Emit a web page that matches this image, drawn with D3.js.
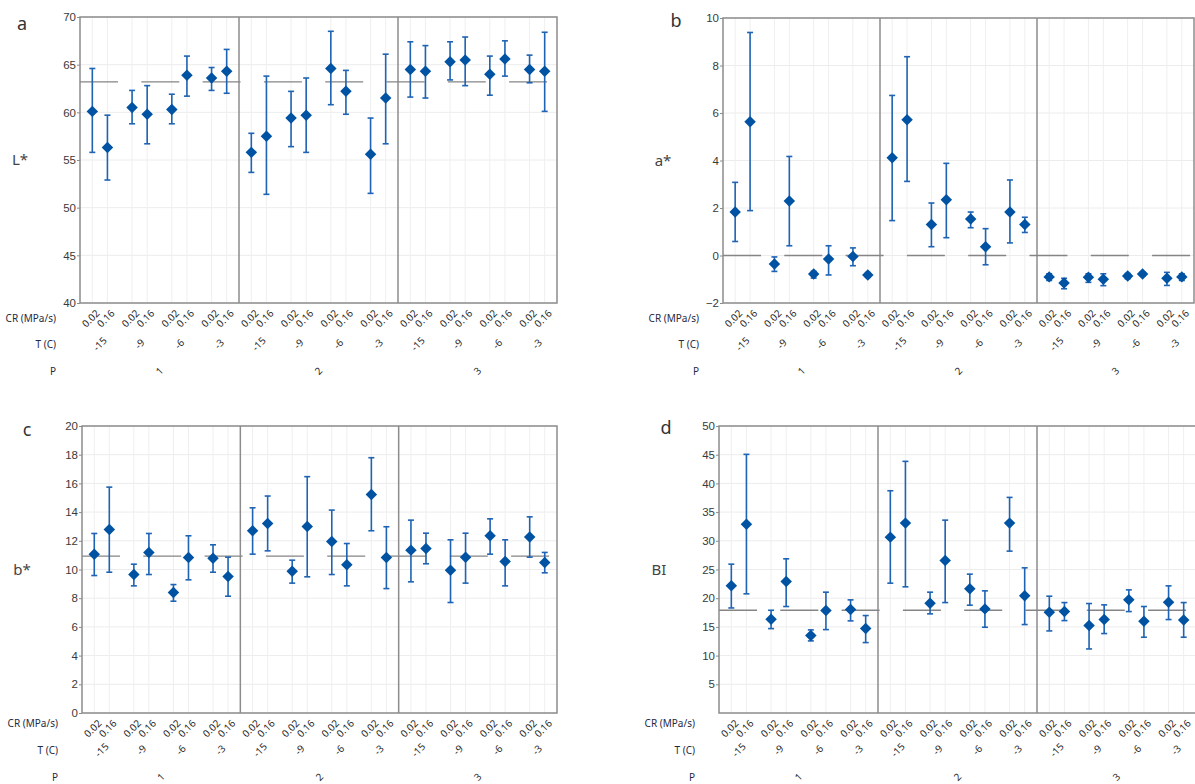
<!DOCTYPE html>
<html>
<head>
<meta charset="utf-8">
<script src="https://cdn.jsdelivr.net/npm/d3@7"></script>
<style>
  body { margin: 0; background: #fff; }
  svg { font-family: "Noto Sans", "Open Sans", sans-serif; }
</style>
</head>
<body>
<svg id="chart" width="1195" height="784"></svg>
<script>
// factor levels
var pLevels = ["1", "2", "3"];
var tLevels = ["-15", "-9", "-6", "-3"];
var crLevels = ["0.02", "0.16"];

// values in order P -> T -> CR (24 cells)
var lMean = [60.1, 56.3, 60.5, 59.8, 60.3, 63.9, 63.6, 64.3,
             55.8, 57.5, 59.4, 59.7, 64.6, 62.2, 55.6, 61.5,
             64.5, 64.3, 65.3, 65.5, 64.0, 65.6, 64.5, 64.3];
var lLow  = [55.8, 52.9, 58.8, 56.7, 58.8, 61.7, 62.3, 62.0,
             53.7, 51.4, 56.4, 55.8, 60.8, 59.8, 51.5, 56.7,
             61.6, 61.5, 63.4, 62.8, 61.8, 63.8, 63.1, 60.1];
var lHigh = [64.6, 59.7, 62.3, 62.8, 61.9, 65.9, 64.7, 66.6,
             57.8, 63.8, 62.2, 63.6, 68.5, 64.4, 59.4, 66.1,
             67.4, 67.0, 67.4, 67.9, 65.9, 67.5, 66.0, 68.4];

var aMean = [1.83, 5.63, -0.36, 2.29, -0.78, -0.15, -0.04, -0.82,
             4.12, 5.72, 1.31, 2.35, 1.54, 0.37, 1.83, 1.31,
             -0.90, -1.16, -0.92, -1.00, -0.86, -0.78, -0.96, -0.90];
var aLow  = [0.59, 1.89, -0.67, 0.41, -0.95, -0.82, -0.43, -0.92,
             1.47, 3.12, 0.37, 0.75, 1.17, -0.39, 0.53, 0.97,
             -1.05, -1.40, -1.13, -1.27, -0.98, -0.86, -1.26, -1.05];
var aHigh = [3.08, 9.39, -0.06, 4.17, -0.67, 0.41, 0.32, -0.72,
             6.74, 8.37, 2.21, 3.88, 1.83, 1.13, 3.18, 1.61,
             -0.77, -0.96, -0.77, -0.77, -0.76, -0.70, -0.71, -0.77];

var bMean = [11.07, 12.79, 9.65, 11.19, 8.40, 10.84, 10.79, 9.51,
             12.70, 13.21, 9.88, 13.00, 11.95, 10.33, 15.23, 10.84,
             11.35, 11.47, 9.95, 10.86, 12.35, 10.56, 12.26, 10.49];
var bLow  = [9.58, 9.81, 8.86, 9.65, 7.79, 9.28, 9.81, 8.14,
             11.07, 11.30, 9.05, 9.49, 9.65, 8.86, 12.70, 8.67,
             9.14, 10.40, 7.70, 9.05, 11.07, 8.86, 10.86, 9.77];
var bHigh = [12.51, 15.74, 10.37, 12.51, 8.95, 12.35, 11.72, 10.86,
             14.30, 15.12, 10.65, 16.47, 14.14, 11.81, 17.79, 12.98,
             13.44, 12.53, 12.07, 12.53, 13.53, 12.07, 13.67, 11.19];

var biMean = [22.15, 32.9, 16.34, 22.9, 13.49, 17.85, 18.02, 14.71,
              30.64, 33.08, 19.13, 26.57, 21.63, 18.14, 33.08, 20.41,
              17.56, 17.67, 15.23, 16.28, 19.71, 15.99, 19.30, 16.22];
var biLow  = [18.3, 20.76, 14.7, 18.55, 12.56, 14.53, 16.05, 12.27,
              22.62, 21.98, 17.27, 19.24, 18.78, 14.94, 28.2, 15.41,
              14.3, 16.1, 11.16, 13.84, 17.67, 13.2, 16.28, 13.2];
var biHigh = [25.93, 45.06, 17.9, 26.86, 14.48, 21.05, 19.71, 16.98,
              38.72, 43.84, 21.05, 33.6, 24.19, 21.28, 37.56, 25.29,
              20.35, 19.24, 19.07, 18.84, 21.45, 18.55, 22.15, 19.24];

// reference (grand mean) lines
var refL = 63.2, refA = 0, refB = 10.93, refBI = 17.9;

function cells(mean, lo, hi) {
  var out = [];
  pLevels.forEach((p, pi) => {
    tLevels.forEach((t, ti) => {
      crLevels.forEach((c, ci) => {
        var i = pi * 8 + ti * 2 + ci;
        out.push({p: p, t: t, cr: c, mean: mean[i], lo: lo[i], hi: hi[i]});
      });
    });
  });
  return out;
}

var svg = d3.select("#chart");

function drawPanel(o) {
  var g = svg.append("g");
  var left = o.box[0], top = o.box[1], right = o.box[2], bottom = o.box[3];

  var pScale = d3.scaleBand().domain(pLevels).range([left, right]);
  var tScale = d3.scaleBand().domain(tLevels).range([0, pScale.bandwidth()]);
  var gw = tScale.bandwidth();
  var crScale = d3.scalePoint().domain(crLevels).range([-0.19 * gw, 0.19 * gw]);
  var xPos = d => pScale(d.p) + tScale(d.t) + gw / 2 + crScale(d.cr);

  var y = d3.scaleLinear().domain(o.domain).range([bottom, top]);
  var data = cells(o.mean, o.lo, o.hi);

  // grid
  g.append("g").selectAll("line").data(o.ticks).join("line")
    .attr("x1", left).attr("x2", right)
    .attr("y1", d => y(d)).attr("y2", d => y(d))
    .attr("stroke", "#ececec").attr("stroke-width", 1);
  g.append("g").selectAll("line").data(data).join("line")
    .attr("x1", xPos).attr("x2", xPos)
    .attr("y1", top).attr("y2", bottom)
    .attr("stroke", "#efefef").attr("stroke-width", 1);

  // frame + P dividers
  g.append("rect")
    .attr("x", left).attr("y", top)
    .attr("width", right - left).attr("height", bottom - top)
    .attr("fill", "none").attr("stroke", "#8c8c8c").attr("stroke-width", 1.5);
  g.append("g").selectAll("line").data(pLevels.slice(1)).join("line")
    .attr("x1", d => pScale(d)).attr("x2", d => pScale(d))
    .attr("y1", top).attr("y2", bottom)
    .attr("stroke", "#8c8c8c").attr("stroke-width", 1.5);

  // reference line
  g.append("line")
    .attr("x1", left).attr("x2", right)
    .attr("y1", y(o.ref)).attr("y2", y(o.ref))
    .attr("stroke", "#858585").attr("stroke-width", 1.3)
    .attr("stroke-dasharray", "38,23.3");

  // y axis
  var yAxis = d3.axisLeft(y).tickValues(o.ticks)
    .tickSizeInner(3).tickSizeOuter(0).tickPadding(1)
    .tickFormat(d3.format("d"));
  var ya = g.append("g").attr("transform", "translate(" + left + ",0)").call(yAxis);
  ya.select(".domain").remove();
  ya.selectAll("line").attr("stroke", "#8c8c8c");
  ya.selectAll("text").attr("font-size", 11.5).attr("fill", "#3a3a3a");

  // error bars
  var eb = g.append("g").attr("stroke", "#1e63b4").attr("stroke-width", 1.6);
  eb.selectAll(".v").data(data).join("line").attr("class", "v")
    .attr("x1", xPos).attr("x2", xPos)
    .attr("y1", d => y(d.lo)).attr("y2", d => y(d.hi));
  eb.selectAll(".ct").data(data).join("line").attr("class", "ct")
    .attr("x1", d => xPos(d) - 3).attr("x2", d => xPos(d) + 3)
    .attr("y1", d => y(d.hi)).attr("y2", d => y(d.hi));
  eb.selectAll(".cb").data(data).join("line").attr("class", "cb")
    .attr("x1", d => xPos(d) - 3).attr("x2", d => xPos(d) + 3)
    .attr("y1", d => y(d.lo)).attr("y2", d => y(d.lo));

  // mean markers
  g.append("g").selectAll("path").data(data).join("path")
    .attr("d", d3.symbol(d3.symbolSquare, 66))
    .attr("transform", d => "translate(" + xPos(d) + "," + y(d.mean) + ") rotate(45)")
    .attr("fill", "#0052a3");

  // x labels
  var lab = g.append("g").attr("font-size", 10).attr("fill", "#2a2a2a");
  lab.selectAll(".cr").data(data).join("text").attr("class", "cr")
    .attr("text-anchor", "end")
    .attr("transform", d => "translate(" + (xPos(d) + 3) + "," + (bottom + 6) + ") rotate(-45)")
    .attr("dy", "0.7em")
    .text(d => d.cr);
  var tCells = [];
  pLevels.forEach(p => tLevels.forEach(t => tCells.push({p: p, t: t})));
  lab.selectAll(".tl").data(tCells).join("text").attr("class", "tl")
    .attr("text-anchor", "middle")
    .attr("transform", d => "translate(" + (pScale(d.p) + tScale(d.t) + gw / 2) + "," + (bottom + o.rows[1]) + ") rotate(-45)")
    .attr("dy", "0.35em")
    .text(d => d.t);
  lab.selectAll(".pl").data(pLevels).join("text").attr("class", "pl")
    .attr("text-anchor", "middle")
    .attr("transform", d => "translate(" + (pScale(d) + pScale.bandwidth() / 2) + "," + (bottom + o.rows[2]) + ") rotate(-45)")
    .attr("dy", "0.35em")
    .text(d => d);

  var rowNames = ["CR (MPa/s)", "T (C)", "P"];
  g.append("g").selectAll("text").data(rowNames).join("text")
    .attr("x", left - 24)
    .attr("y", (d, i) => bottom + o.rows[i])
    .attr("dy", "0.35em")
    .attr("text-anchor", "end")
    .attr("font-size", 10).attr("fill", "#1f2a44")
    .text(d => d);

  // titles
  g.append("text")
    .attr("x", left - 60).attr("y", (top + bottom) / 2)
    .attr("dy", "0.35em").attr("text-anchor", "middle")
    .attr("font-size", 15).attr("fill", "#444")
    .text(o.title);
  g.append("text")
    .attr("x", o.letterPos[0]).attr("y", o.letterPos[1])
    .attr("dy", "0.35em").attr("text-anchor", "middle")
    .attr("font-size", 18).attr("fill", "#333")
    .text(o.letter);
}

drawPanel({box: [80, 17, 557, 303], domain: [40, 70], ticks: d3.range(40, 71, 5),
  mean: lMean, lo: lHigh.map((_, i) => lLow[i]), hi: lHigh, ref: refL,
  title: "L*", letter: "a", letterPos: [22, 24], rows: [15, 41, 68]});
drawPanel({box: [723, 18, 1194, 303], domain: [-2, 10], ticks: d3.range(-2, 11, 2),
  mean: aMean, lo: aLow, hi: aHigh, ref: refA,
  title: "a*", letter: "b", letterPos: [676, 21], rows: [15, 41, 68]});
drawPanel({box: [82, 426, 557, 713], domain: [0, 20], ticks: d3.range(0, 21, 2),
  mean: bMean, lo: bLow, hi: bHigh, ref: refB,
  title: "b*", letter: "c", letterPos: [27, 430], rows: [10, 37, 64]});
drawPanel({box: [719, 426, 1196, 713], domain: [0, 50], ticks: d3.range(5, 51, 5),
  mean: biMean, lo: biLow, hi: biHigh, ref: refBI,
  title: "BI", letter: "d", letterPos: [666, 428], rows: [10, 37, 64]});
</script>
</body>
</html>
